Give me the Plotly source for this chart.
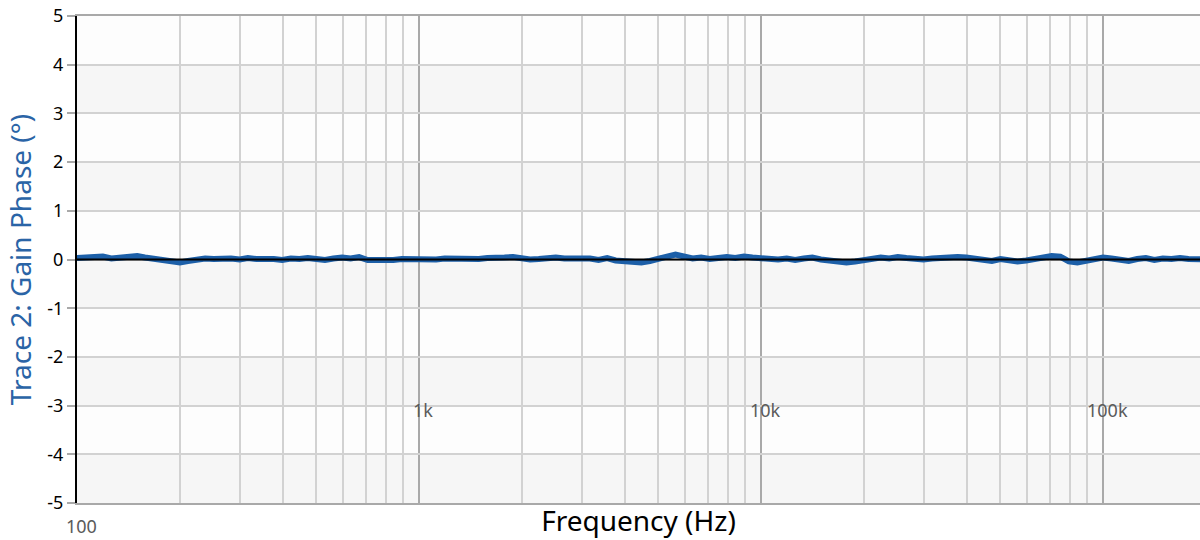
import math
import plotly.graph_objects as go

# Frequency sweep (Hz), 40 points per decade
freq_hz = [
    100, 106, 112, 119, 126, 133, 141, 150, 158, 168, 178, 188, 200, 211, 224, 237, 251, 266, 282, 299,
    316, 335, 355, 376, 398, 422, 447, 473, 501, 531, 562, 596, 631, 668, 708, 750, 794, 841, 891, 944,
    1000, 1059, 1122, 1189, 1259, 1334, 1413, 1496, 1585, 1679, 1778, 1884, 1995, 2113, 2239, 2371, 2512, 2661, 2818, 2985,
    3162, 3350, 3548, 3758, 3981, 4217, 4467, 4732, 5012, 5309, 5623, 5957, 6310, 6683, 7079, 7499, 7943, 8414, 8913, 9441,
    10000, 10590, 11220, 11890, 12590, 13340, 14130, 14960, 15850, 16790, 17780, 18840, 19950, 21130, 22390, 23710, 25120, 26610, 28180, 29850,
    31620, 33500, 35480, 37580, 39810, 42170, 44670, 47320, 50120, 53090, 56230, 59570, 63100, 66830, 70790, 74990, 79430, 84140, 89130, 94410,
    100000, 105900, 112200, 118900, 125900, 133400, 141300, 149600, 158500, 167900, 177800, 188400, 199500,
]

# Measured gain phase (degrees)
gain_phase_deg = [
    0.03, 0.05, 0.04, 0.06, 0.02, 0.03, 0.05, 0.07, 0.04, 0.01, -0.02, -0.04, -0.06, -0.03, 0.00, 0.02, 0.01, 0.03, 0.02, 0.00,
    0.03, 0.01, 0.02, 0.01, -0.01, 0.02, 0.01, 0.03, 0.01, -0.01, 0.02, 0.04, 0.02, 0.05, -0.01, -0.02, 0.00, -0.01, 0.01, 0.00,
    -0.01, 0.01, 0.00, 0.02, 0.01, 0.03, 0.02, 0.01, 0.03, 0.02, 0.04, 0.05, 0.02, 0.00, 0.01, 0.03, 0.04, 0.02, 0.03, 0.01,
    0.02, -0.01, 0.03, -0.02, -0.04, -0.03, -0.06, -0.03, 0.03, 0.06, 0.10, 0.07, 0.02, 0.04, 0.01, 0.03, 0.05, 0.03, 0.06, 0.04,
    0.02, 0.03, 0.00, 0.02, -0.01, 0.02, 0.04, 0.00, -0.02, -0.05, -0.06, -0.04, -0.01, 0.02, 0.04, 0.02, 0.05, 0.03, 0.01, 0.00,
    0.02, 0.03, 0.06, 0.05, 0.04, 0.02, -0.02, -0.03, 0.01, -0.03, -0.04, -0.02, 0.01, 0.05, 0.07, 0.06, -0.04, -0.06, -0.02, 0.03,
    0.04, 0.02, -0.02, -0.03, 0.01, 0.03, -0.01, 0.02, 0.01, 0.03, 0.01, 0.02, 0.00,
]

# Reference level
ref_freq = [100, 199500]
ref_deg = [0, 0]

y_ticks = [-5, -4, -3, -2, -1, 0, 1, 2, 3, 4, 5]
y_tick_text = ["-5", "-4", "-3", "-2", "-1", "0", "1", "2", "3", "4", "5"]

x_major = [100, 1000, 10000, 100000]
x_major_text = ["100", "1k", "10k", "100k"]
x_minor = [m * d for d in (100, 1000, 10000, 100000) for m in range(2, 10)]

x_range_log = [2, 5.2836]

FONT = "Noto Sans, Open Sans, sans-serif"

fig = go.Figure()

fig.add_trace(go.Scatter(
    x=freq_hz, y=gain_phase_deg, mode="lines",
    line=dict(color="#1c5fa8", width=6),
    showlegend=False, hoverinfo="skip",
))
fig.add_trace(go.Scatter(
    x=ref_freq, y=ref_deg, mode="lines",
    line=dict(color="#000000", width=2),
    showlegend=False, hoverinfo="skip",
))

# Alternating shaded bands between horizontal gridlines
for lo, hi in zip(y_ticks[:-1], y_ticks[1:]):
    if lo % 2 != 0:
        fig.add_shape(type="rect", xref="paper", yref="y", x0=0, x1=1, y0=lo, y1=hi,
                      fillcolor="#f6f6f6", line_width=0, layer="below")

# Frequency labels
for val, txt in zip(x_major, x_major_text):
    if val == 100:
        ypos, yref = -0.075, "paper"
    else:
        ypos, yref = -3.1, "y"
    fig.add_annotation(
        x=math.log10(val), y=ypos, xref="x", yref=yref,
        text=txt, showarrow=False, xshift=4,
        font=dict(family=FONT, size=18, color="#5a5a5a"),
    )

fig.update_layout(
    width=1200, height=540,
    margin=dict(l=77, r=0, t=16, b=37),
    paper_bgcolor="#ffffff",
    plot_bgcolor="#fdfdfd",
    font=dict(family=FONT, color="#000000"),
    xaxis=dict(
        type="log", range=x_range_log,
        tickvals=x_major, showticklabels=False, ticks="",
        showgrid=True, gridcolor="#a9a9a9", gridwidth=2,
        minor=dict(tickvals=x_minor, showgrid=True, gridcolor="#d2d2d2", gridwidth=2, ticks=""),
        showline=True, linecolor="#a9a9a9", linewidth=2, mirror=True,
        zeroline=False,
        title=dict(text="Frequency (Hz)", font=dict(size=28, color="#000000"), standoff=7),
    ),
    yaxis=dict(
        range=[-5, 5],
        tickvals=y_ticks, ticktext=y_tick_text,
        ticks="outside", ticklen=8, tickwidth=2, tickcolor="#a9a9a9",
        tickfont=dict(size=18, color="#000000"),
        showgrid=True, gridcolor="#d2d2d2", gridwidth=2,
        showline=True, linecolor="#000000", linewidth=2,
        zeroline=False,
        title=dict(text="Trace 2: Gain Phase (°)", font=dict(size=28, color="#2a64a6"), standoff=8),
    ),
)

fig.write_html("out.html")
